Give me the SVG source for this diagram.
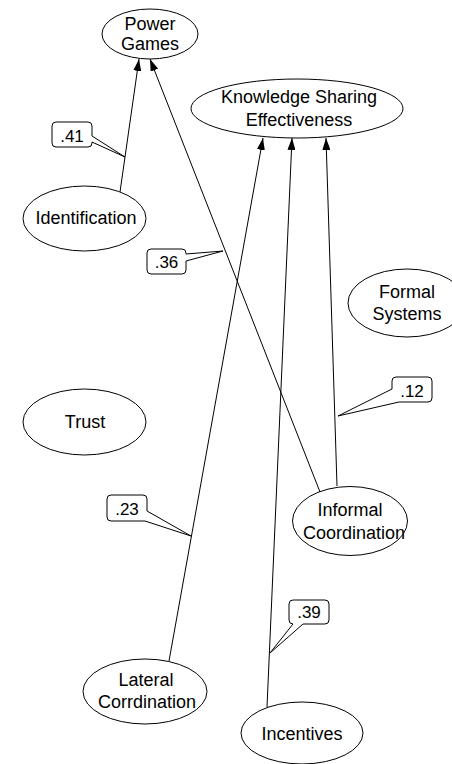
<svg xmlns="http://www.w3.org/2000/svg" width="452" height="764" viewBox="0 0 452 764">
<style>
.n ellipse{fill:#fff;stroke:#000;stroke-width:1}
.n text{font-family:"Liberation Sans",Arial,sans-serif;font-size:18px;fill:#000;text-anchor:middle}
.c path{fill:none;stroke:#000;stroke-width:1;marker-end:url(#ah)}
.l path{fill:#fff;stroke:#000;stroke-width:1}
.l text{font-family:"Liberation Sans",Arial,sans-serif;font-size:17px;fill:#000;text-anchor:middle}
</style>
<defs>
<marker id="ah" viewBox="0 0 12 8" refX="12" refY="4" markerWidth="12" markerHeight="8" markerUnits="userSpaceOnUse" orient="auto">
<path d="M0,0 L12,4 L0,8 Z" fill="#000"/>
</marker>
</defs>
<rect width="452" height="764" fill="#fff"/>
<g id="power-games" class="n"><ellipse cx="150" cy="34" rx="48" ry="25"/><text x="150" y="30">Power</text><text x="150" y="50">Games</text></g>
<g id="kse" class="n"><ellipse cx="297" cy="108.5" rx="106" ry="29.5"/><text x="299" y="103">Knowledge Sharing</text><text x="299" y="126">Effectiveness</text></g>
<g id="identification" class="n"><ellipse cx="84.5" cy="218.5" rx="61.5" ry="32.5"/><text x="86" y="224">Identification</text></g>
<g id="formal-systems" class="n"><ellipse cx="407" cy="303" rx="59" ry="34"/><text x="407" y="298">Formal</text><text x="407" y="320">Systems</text></g>
<g id="trust" class="n"><ellipse cx="84.5" cy="422" rx="61.5" ry="33"/><text x="85" y="428">Trust</text></g>
<g id="informal-coordination" class="n"><ellipse cx="350" cy="521" rx="57.5" ry="34.5"/><text x="350" y="516">Informal</text><text x="354" y="539">Coordination</text></g>
<g id="lateral-corrdination" class="n"><ellipse cx="145" cy="691.5" rx="62" ry="32.5"/><text x="146" y="686">Lateral</text><text x="147" y="708">Corrdination</text></g>
<g id="incentives" class="n"><ellipse cx="302" cy="733" rx="61" ry="31"/><text x="302" y="740">Incentives</text></g>
<g id="connectors" class="c">
<path d="M120,192 L139,59"/>
<path d="M320,492 L150,59"/>
<path d="M169,661 L263,138"/>
<path d="M267,707 L292,138"/>
<path d="M337,486 L326,138"/>
</g>
<g id="labels" class="l">
<g id="lbl-41"><path d="M56,122 H88 Q92,122 92,126 V136 L125,157 L92,142 V143 Q92,147 88,147 H56 Q52,147 52,143 V126 Q52,122 56,122 Z"/><text x="72" y="142">.41</text></g>
<g id="lbl-36"><path d="M151,249 H182 Q186,249 186,253 V254 L223,251 L186,261 V270 Q186,274 182,274 H151 Q147,274 147,270 V253 Q147,249 151,249 Z"/><text x="166.5" y="268">.36</text></g>
<g id="lbl-12"><path d="M396,377 H428 Q432,377 432,381 V398 Q432,402 428,402 H399 L338,416 L392,389 V381 Q392,377 396,377 Z"/><text x="412" y="397">.12</text></g>
<g id="lbl-23"><path d="M111,495 H143 Q147,495 147,499 V511 L191,536 L145,521 H111 Q107,521 107,517 V499 Q107,495 111,495 Z"/><text x="127" y="515">.23</text></g>
<g id="lbl-39"><path d="M293,600 H325 Q329,600 329,604 V620 Q329,624 325,624 H303 L270,653 L293,624 Q289,624 289,620 V604 Q289,600 293,600 Z"/><text x="309" y="618">.39</text></g>
</g>
</svg>
